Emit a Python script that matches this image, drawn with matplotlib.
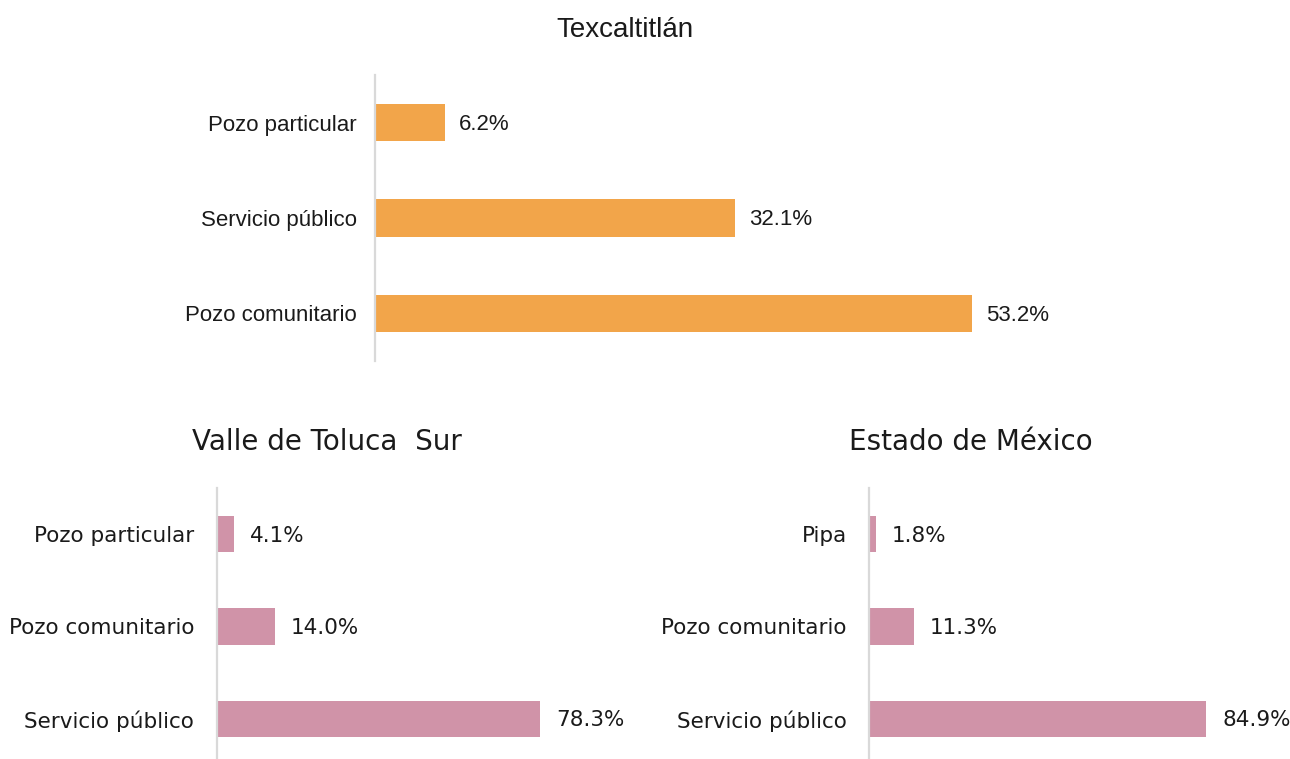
import matplotlib
matplotlib.use("Agg")
import matplotlib.pyplot as plt

plt.rcParams["font.family"] = ["Liberation Sans", "DejaVu Sans"]

# Fuente de abastecimiento de agua (%)
texcal_cats = ["Pozo particular", "Servicio público", "Pozo comunitario"]
texcal_vals = [6.2, 32.1, 53.2]

valle_cats = ["Pozo particular", "Pozo comunitario", "Servicio público"]
valle_vals = [4.1, 14.0, 78.3]

edomex_cats = ["Pipa", "Pozo comunitario", "Servicio público"]
edomex_vals = [1.8, 11.3, 84.9]

ORANGE = "#F2A54A"
PINK = "#D093A8"
AXIS_GRAY = "#D9D9D9"
TEXT = "#1a1a1a"

W, H = 1290, 759
fig = plt.figure(figsize=(W / 100, H / 100), dpi=100)


def panel(left_px, top_px, bottom_px, px_per_pct, xmax, cats, vals, color,
          title, title_xy, family, label_size, value_size, title_size, pad, offset):
    width_px = px_per_pct * xmax
    ax = fig.add_axes([left_px / W, 1 - bottom_px / H, width_px / W, (bottom_px - top_px) / H])
    ax.barh(range(len(cats)), vals, height=0.39, color=color)
    ax.set_xlim(0, xmax)
    ax.set_ylim(len(cats) - 0.5, -0.5)
    ax.set_yticks(range(len(cats)))
    ax.set_yticklabels(cats, fontsize=label_size, family=family, color=TEXT)
    ax.tick_params(axis="y", length=0, pad=pad)
    ax.set_xticks([])
    for side in ("top", "right", "bottom"):
        ax.spines[side].set_visible(False)
    ax.spines["left"].set_color(AXIS_GRAY)
    ax.spines["left"].set_linewidth(1.6)
    for i, v in enumerate(vals):
        ax.annotate(f"{v:.1f}%", (v, i), xytext=(offset, -1.2), textcoords="offset points",
                    ha="left", va="center", fontsize=value_size, family=family, color=TEXT)
    fig.text(title_xy[0] / W, 1 - title_xy[1] / H, title, ha="center", va="center",
             fontsize=title_size, family=family, color=TEXT)
    return ax


panel(375, 75, 361, 11.22, 60, texcal_cats, texcal_vals, ORANGE,
      "Texcaltitlán", (625, 30), ["Liberation Sans"], 16, 16, 20, 13, 10)
panel(217, 488, 765, 4.125, 90, valle_cats, valle_vals, PINK,
      "Valle de Toluca  Sur", (327, 442), ["DejaVu Sans"], 15.5, 15.5, 20, 16.5, 11.5)
panel(869, 488, 765, 3.97, 100, edomex_cats, edomex_vals, PINK,
      "Estado de México", (971, 442), ["DejaVu Sans"], 15.5, 15.5, 20, 16, 11.5)

fig.savefig("out.png", dpi=100)
